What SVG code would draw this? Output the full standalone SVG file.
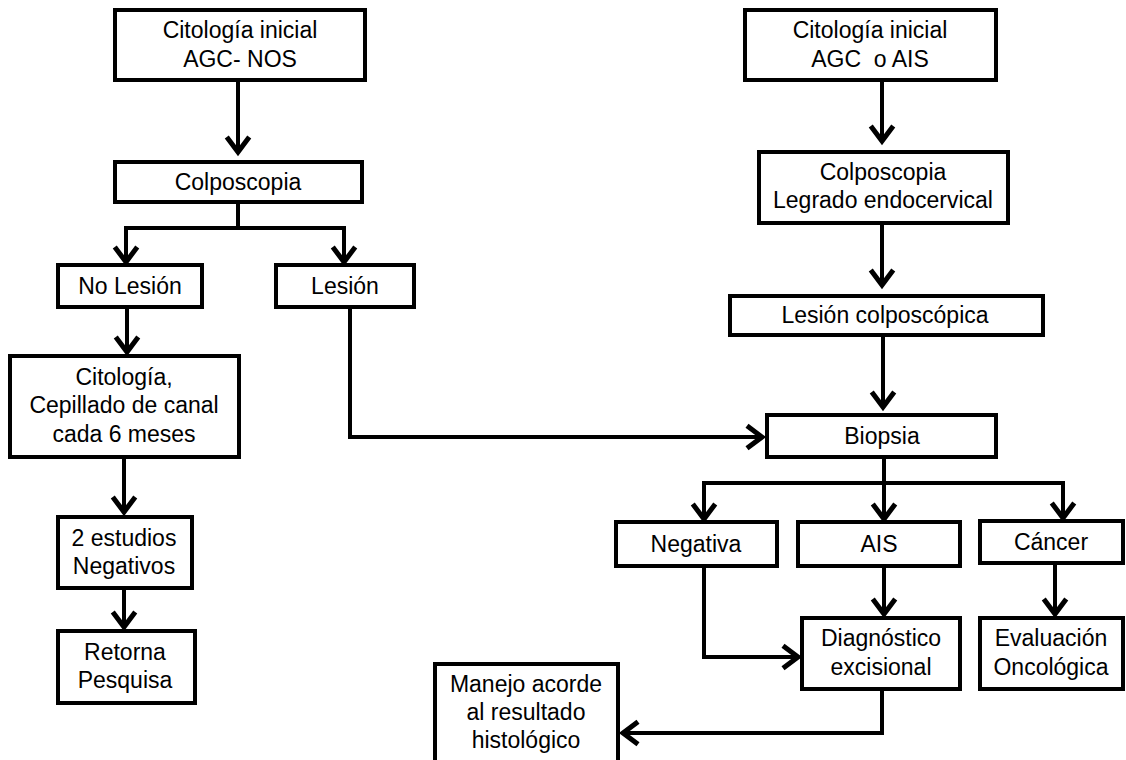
<svg xmlns="http://www.w3.org/2000/svg" width="1126" height="760" viewBox="0 0 1126 760">
<style>
.box{fill:#fff;stroke:#000;stroke-width:4}
.t{font-family:"Liberation Sans",Arial,sans-serif;font-size:23px;fill:#000;text-anchor:middle}
.c{fill:none;stroke:#000;stroke-width:4;stroke-linejoin:miter}
.a{marker-end:url(#ah)}
</style>
<defs>
<marker id="ah" markerUnits="userSpaceOnUse" orient="auto" markerWidth="30" markerHeight="30" refX="0" refY="0" viewBox="-16 -12 20 24" overflow="visible">
<path d="M-12,-9 L0,0 L-12,9" fill="none" stroke="#000" stroke-width="4"/>
</marker>
</defs>
<rect width="1126" height="760" fill="#fff"/>
<g id="connectors">
<path class="c a" d="M238,82 V152"/>
<path class="c" d="M238,202 V228 M126,228 H344"/>
<path class="c a" d="M126,226 V262"/>
<path class="c a" d="M344,226 V262"/>
<path class="c a" d="M127,308 V352"/>
<path class="c a" d="M124,457 V512"/>
<path class="c a" d="M124,588 V627"/>
<path class="c a" d="M882,80 V141"/>
<path class="c a" d="M882,223 V285"/>
<path class="c a" d="M883,335 V407"/>
<path class="c a" d="M350,308 V437 H762"/>
<path class="c" d="M884,457 V483 M704,483 H1063"/>
<path class="c a" d="M704,481 V519"/>
<path class="c a" d="M884,481 V519"/>
<path class="c a" d="M1063,481 V518"/>
<path class="c a" d="M704,566 V657 H798"/>
<path class="c a" d="M884,566 V614"/>
<path class="c a" d="M1055,563 V614"/>
<path class="c a" d="M882,689 V733 H623"/>
</g>
<g id="n1"><rect class="box" x="115" y="10" width="250" height="70"/><text class="t" x="240" y="38">Citología inicial</text><text class="t" x="240" y="67">AGC- NOS</text></g>
<g id="n2"><rect class="box" x="115" y="162" width="247" height="40"/><text class="t" x="238" y="190">Colposcopia</text></g>
<g id="n3"><rect class="box" x="58" y="265" width="144" height="42"/><text class="t" x="130" y="294">No Lesión</text></g>
<g id="n4"><rect class="box" x="276" y="265" width="138" height="42"/><text class="t" x="345" y="294">Lesión</text></g>
<g id="n5"><rect class="box" x="10" y="356" width="229" height="101"/><text class="t" x="124" y="385">Citología,</text><text class="t" x="124" y="413">Cepillado de canal</text><text class="t" x="124" y="442">cada 6 meses</text></g>
<g id="n6"><rect class="box" x="58" y="517" width="134" height="71"/><text class="t" x="124" y="546">2 estudios</text><text class="t" x="124" y="574">Negativos</text></g>
<g id="n7"><rect class="box" x="58" y="631" width="137" height="72"/><text class="t" x="125" y="660">Retorna</text><text class="t" x="125" y="688">Pesquisa</text></g>
<g id="n8"><rect class="box" x="745" y="10" width="251" height="70"/><text class="t" x="870" y="38">Citología inicial</text><text class="t" x="870" y="67">AGC&#160; o AIS</text></g>
<g id="n9"><rect class="box" x="759" y="152" width="249" height="71"/><text class="t" x="883" y="180">Colposcopia</text><text class="t" x="883" y="208">Legrado endocervical</text></g>
<g id="n10"><rect class="box" x="730" y="296" width="313" height="39"/><text class="t" x="885" y="323">Lesión colposcópica</text></g>
<g id="n11"><rect class="box" x="767" y="415" width="229" height="42"/><text class="t" x="882" y="444">Biopsia</text></g>
<g id="n12"><rect class="box" x="616" y="522" width="161" height="44"/><text class="t" x="696" y="552">Negativa</text></g>
<g id="n13"><rect class="box" x="798" y="522" width="162" height="44"/><text class="t" x="879" y="552">AIS</text></g>
<g id="n14"><rect class="box" x="980" y="521" width="143" height="42"/><text class="t" x="1051" y="550">Cáncer</text></g>
<g id="n15"><rect class="box" x="802" y="618" width="158" height="71"/><text class="t" x="881" y="646">Diagnóstico</text><text class="t" x="881" y="675">excisional</text></g>
<g id="n16"><rect class="box" x="980" y="618" width="143" height="71"/><text class="t" x="1051" y="646">Evaluación</text><text class="t" x="1051" y="675">Oncológica</text></g>
<g id="n17"><rect class="box" x="435" y="664" width="183" height="120"/><text class="t" x="526" y="692">Manejo acorde</text><text class="t" x="526" y="720">al resultado</text><text class="t" x="526" y="748">histológico</text></g>
</svg>
